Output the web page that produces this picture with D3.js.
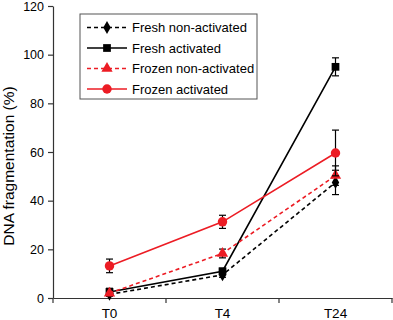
<!DOCTYPE html>
<html>
<head>
<meta charset="utf-8">
<script src="https://cdn.jsdelivr.net/npm/d3@7"></script>
<style>
  body { margin: 0; background: #fff; }
  text { font-family: "Liberation Sans", Arial, sans-serif; }
</style>
</head>
<body>
<div class="canvas"></div>
<script>
const categories = ['T0', 'T4', 'T24']
const yTicks = [0, 20, 40, 60, 80, 100, 120]

const seriesNames = ['Fresh non-activated', 'Fresh activated', 'Frozen non-activated', 'Frozen activated']
const freshNonActivated = [1.5, 9.5, 47.5]
const freshNonActivatedErr = [0.8, 1, 5]
const freshActivated = [2.5, 11, 95]
const freshActivatedErr = [1.5, 1.2, 3.7]
const frozenNonActivated = [2, 18.3, 50.3]
const frozenNonActivatedErr = [1, 1.8, 4]
const frozenActivated = [13.2, 31.3, 59.6]
const frozenActivatedErr = [2.8, 2.7, 9.4]

const dims = {width: 393, height: 320}

const series = [
    {name: seriesNames[0], values: freshNonActivated, err: freshNonActivatedErr, color: '#000', dash: '4,3', symbol: d3.symbolDiamond, size: 48},
    {name: seriesNames[1], values: freshActivated, err: freshActivatedErr, color: '#000', dash: null, symbol: d3.symbolSquare, size: 60},
    {name: seriesNames[2], values: frozenNonActivated, err: frozenNonActivatedErr, color: '#ec1c24', dash: '4,3', symbol: d3.symbolTriangle, size: 55},
    {name: seriesNames[3], values: frozenActivated, err: frozenActivatedErr, color: '#ec1c24', dash: null, symbol: d3.symbolCircle, size: 70}
]

const svg = d3.select('.canvas').append('svg')
    .attr('width', dims.width)
    .attr('height', dims.height)

const x = d3.scaleBand().domain(categories).range([53, 392])
const y = d3.scaleLinear().domain([0, 120]).range([298, 6])

// y axis
const yAxis = svg.append('g')
    .attr('transform', 'translate(53,0)')
    .call(d3.axisLeft(y).tickValues(yTicks).tickSize(5).tickSizeOuter(0).tickPadding(4))
yAxis.select('.domain').attr('stroke', '#333').attr('stroke-width', 1.2)
yAxis.selectAll('.tick line').attr('stroke', '#333').attr('stroke-width', 1.2)
yAxis.selectAll('text').attr('font-size', 12.5).attr('fill', '#000')
    .style('font-family', '"Liberation Sans", Arial, sans-serif')

// x axis, ticks between the categories
const xAxis = svg.append('g')
    .attr('transform', 'translate(0,298)')
    .call(d3.axisBottom(x).tickSize(0).tickPadding(10))
xAxis.select('.domain').attr('stroke', '#333').attr('stroke-width', 1.2)
xAxis.selectAll('text').attr('font-size', 13.5).attr('fill', '#000')
    .style('font-family', '"Liberation Sans", Arial, sans-serif')
xAxis.selectAll('.sep')
    .data(x.domain().map(d => x(d)).concat([x.range()[1]]))
    .enter()
        .append('line')
        .attr('x1', d => d).attr('x2', d => d)
        .attr('y1', 0).attr('y2', 5)
        .attr('stroke', '#333').attr('stroke-width', 1.2)

svg.append('text')
    .attr('transform', 'translate(13.5,166) rotate(-90)')
    .attr('text-anchor', 'middle')
    .attr('font-size', 15.5)
    .text('DNA fragmentation (%)')

const cx = c => x(c) + x.bandwidth() / 2
const line = d3.line().x(d => cx(d.c)).y(d => y(d.v))

series.forEach(s => {
    const pts = categories.map((c, i) => ({c: c, v: s.values[i], e: s.err[i]}))
    const g = svg.append('g')

    // error bars
    const eb = g.selectAll('.err').data(pts).enter().append('g')
    eb.append('line')
        .attr('x1', d => cx(d.c)).attr('x2', d => cx(d.c))
        .attr('y1', d => y(d.v - d.e)).attr('y2', d => y(d.v + d.e))
        .attr('stroke', '#000').attr('stroke-width', 1.2)
    eb.append('line')
        .attr('x1', d => cx(d.c) - 3.5).attr('x2', d => cx(d.c) + 3.5)
        .attr('y1', d => y(d.v + d.e)).attr('y2', d => y(d.v + d.e))
        .attr('stroke', '#000').attr('stroke-width', 1.2)
    eb.append('line')
        .attr('x1', d => cx(d.c) - 3.5).attr('x2', d => cx(d.c) + 3.5)
        .attr('y1', d => y(d.v - d.e)).attr('y2', d => y(d.v - d.e))
        .attr('stroke', '#000').attr('stroke-width', 1.2)

    g.append('path')
        .datum(pts)
        .attr('d', line)
        .attr('fill', 'none')
        .attr('stroke', s.color)
        .attr('stroke-width', 1.6)
        .attr('stroke-dasharray', s.dash)

    g.selectAll('.mark').data(pts).enter()
        .append('path')
        .attr('d', d3.symbol().type(s.symbol).size(s.size))
        .attr('transform', d => `translate(${cx(d.c)},${y(d.v)})`)
        .attr('fill', s.color)
})

// legend
const legend = svg.append('g').attr('transform', 'translate(80,14)')
legend.append('rect')
    .attr('width', 177).attr('height', 85)
    .attr('fill', '#fff').attr('stroke', '#555').attr('stroke-width', 1)

const rows = legend.selectAll('.row').data(series).enter()
    .append('g')
    .attr('transform', (d, i) => `translate(0,${13.5 + i * 20.5})`)
rows.append('line')
    .attr('x1', 7).attr('x2', 47)
    .attr('stroke', d => d.color).attr('stroke-width', 1.6)
    .attr('stroke-dasharray', d => d.dash)
rows.append('path')
    .attr('d', d => d3.symbol().type(d.symbol).size(d.size)())
    .attr('transform', 'translate(27,0)')
    .attr('fill', d => d.color)
rows.append('text')
    .attr('x', 52).attr('y', 4.5)
    .attr('font-size', 13)
    .text(d => d.name)
</script>
</body>
</html>
